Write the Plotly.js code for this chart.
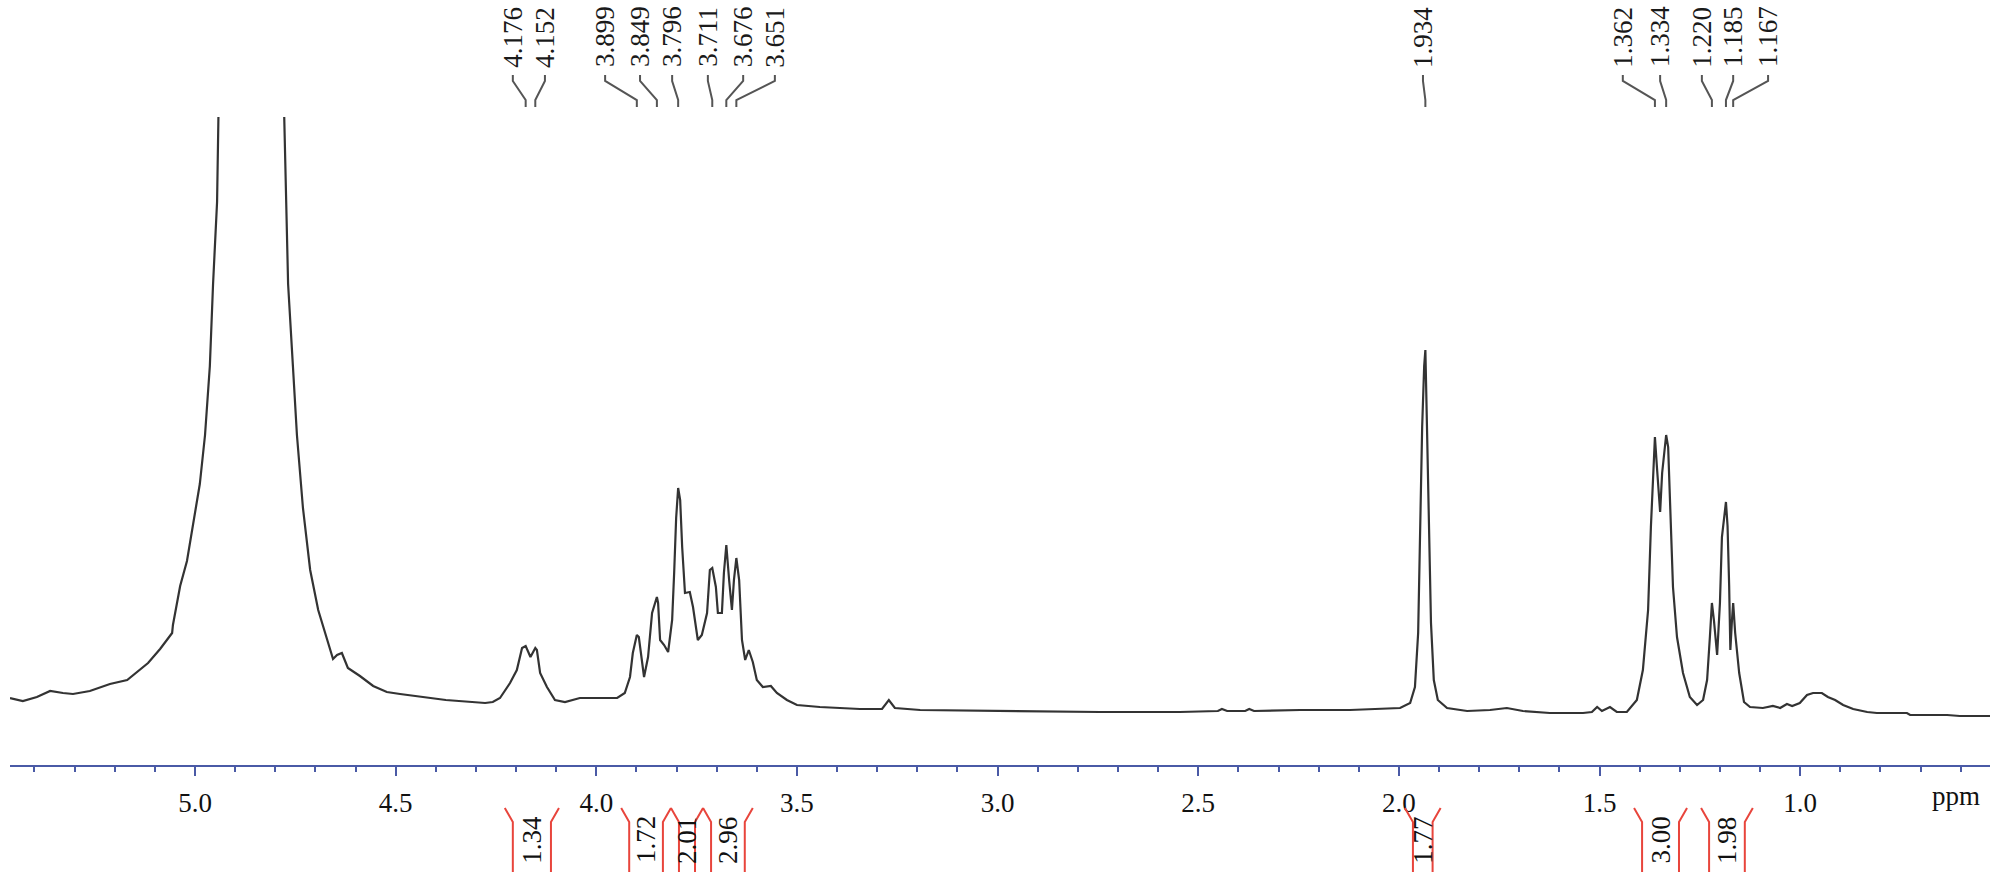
<!DOCTYPE html>
<html>
<head>
<meta charset="utf-8">
<script src="https://cdn.plot.ly/plotly-3.0.1.min.js"></script>
<style>html,body{margin:0;padding:0;background:#fff;}#chart{width:1999px;height:879px;}</style>
</head>
<body>
<div id="chart"></div>
<script>
// ---- spectrum data (chemical shift in ppm, intensity in arbitrary units) ----
const ppm = [5.461,5.429,5.394,5.361,5.329,5.304,5.262,5.212,5.169,5.137,5.117,5.087,5.057,5.055,5.037,5.020,5.005,4.988,4.975,4.963,4.955,4.945,4.940,4.860,4.780,4.773,4.768,4.756,4.746,4.731,4.713,4.693,4.671,4.656,4.646,4.634,4.619,4.589,4.556,4.522,4.489,4.375,4.277,4.258,4.240,4.215,4.198,4.185,4.176,4.164,4.152,4.148,4.140,4.123,4.103,4.078,4.041,3.998,3.948,3.929,3.916,3.909,3.899,3.894,3.889,3.881,3.871,3.861,3.849,3.846,3.841,3.831,3.821,3.811,3.806,3.801,3.796,3.791,3.786,3.779,3.767,3.759,3.747,3.737,3.724,3.717,3.711,3.702,3.697,3.687,3.682,3.676,3.669,3.662,3.657,3.651,3.644,3.637,3.629,3.620,3.610,3.600,3.585,3.565,3.550,3.525,3.500,3.443,3.343,3.288,3.271,3.256,3.193,2.994,2.745,2.546,2.451,2.441,2.428,2.383,2.373,2.361,2.246,2.122,2.040,1.997,1.972,1.960,1.952,1.947,1.942,1.937,1.934,1.930,1.925,1.920,1.913,1.903,1.880,1.830,1.773,1.731,1.691,1.624,1.541,1.519,1.506,1.494,1.474,1.457,1.432,1.407,1.392,1.379,1.372,1.362,1.357,1.349,1.344,1.334,1.329,1.324,1.317,1.307,1.292,1.275,1.257,1.242,1.232,1.225,1.220,1.215,1.207,1.200,1.195,1.185,1.181,1.177,1.174,1.170,1.167,1.162,1.152,1.140,1.125,1.093,1.068,1.050,1.033,1.020,1.001,0.983,0.968,0.946,0.931,0.913,0.893,0.868,0.833,0.809,0.734,0.726,0.634,0.602,0.527];
const intensity = [18,15,19,25,23,22,25,32,36,46,53,67,83,91,130,155,191,232,281,350,432,514,640,1500,640,514,432,350,281,208,146,106,77,57,61,63,48,40,30,24,22,16,13,14,18,33,46,68,70,59,68,66,43,29,16,14,18,18,18,23,39,63,81,79,63,39,59,103,119,113,76,71,64,96,143,198,228,216,169,123,124,109,76,81,103,146,148,129,103,103,143,171,136,106,136,158,136,76,56,66,54,36,29,30,23,16,11,9,7,7,16,8,6,5,4,4,5,7,5,5,7,5,6,6,7,8,13,29,83,193,289,350,366,289,189,93,36,16,8,5,6,8,5,3,3,4,9,5,9,4,4,16,46,106,189,279,249,204,243,281,269,203,129,79,43,19,11,16,36,79,113,96,61,113,179,214,190,130,66,96,113,83,43,14,9,8,10,8,12,10,13,21,23,23,19,16,11,7,4,3,3,1,1,0,0];

// ---- peak picking labels ----
const peakShifts = [4.176,4.152,3.899,3.849,3.796,3.711,3.676,3.651,1.934,1.362,1.334,1.220,1.185,1.167];

// ---- integrals ----
const integralFrom = [4.228,3.938,3.814,3.734,1.985,1.414,1.247];
const integralTo   = [4.093,3.814,3.734,3.610,1.896,1.282,1.118];
const integralValues = ['1.34','1.72','2.01','2.96','1.77','3.00','1.98'];

// ---- axis ----
const xTickLabels = ['5.0','4.5','4.0','3.5','3.0','2.5','2.0','1.5','1.0'];
const xTickValues = [5.0,4.5,4.0,3.5,3.0,2.5,2.0,1.5,1.0];

// layout-only: where the rotated peak labels sit (ppm scale)
const labelPos = [4.208,4.128,3.978,3.891,3.811,3.722,3.634,3.555,1.940,1.442,1.349,1.245,1.167,1.080];

const serif = 'Liberation Serif, Times New Roman, serif';
const axisBlue = '#4a5aa6';
const red = '#e8453c';

const shapes = [];
const annotations = [];

// peak label connectors
peakShifts.forEach((p, i) => {
  const lx = labelPos[i];
  shapes.push({type:'path', xref:'x', yref:'paper',
    path:`M ${lx},1.0648 L ${lx},1.0556 L ${p},1.0262 L ${p},1.0154`,
    line:{color:'#555', width:2}});
  annotations.push({xref:'x', yref:'paper', x:lx, y:1.1235, text:p.toFixed(3),
    textangle:-90, showarrow:false, xanchor:'center', yanchor:'middle',
    font:{family:serif, size:27, color:'#1a1a1a'}});
});

// integral brackets
const off = 0.02;
const yTop = -0.0664, yFlare = -0.0880, yBot = -0.1651, yText = -0.1157;
integralFrom.forEach((a, i) => {
  const b = integralTo[i];
  shapes.push({type:'path', xref:'x', yref:'paper',
    path:`M ${a},${yTop} L ${a-off},${yFlare} L ${a-off},${yBot}`, line:{color:red, width:2}});
  shapes.push({type:'path', xref:'x', yref:'paper',
    path:`M ${b},${yTop} L ${b+off},${yFlare} L ${b+off},${yBot}`, line:{color:red, width:2}});
  annotations.push({xref:'x', yref:'paper', x:(a+b)/2, y:yText, text:integralValues[i],
    textangle:-90, showarrow:false, xanchor:'center', yanchor:'middle',
    font:{family:serif, size:27, color:'#111'}});
});

annotations.push({xref:'paper', yref:'paper', x:0.9828, y:-0.0480, text:'ppm',
  showarrow:false, xanchor:'center', yanchor:'middle', font:{family:serif, size:27, color:'#111'}});

const trace = {x:ppm, y:intensity, type:'scatter', mode:'lines',
  line:{color:'#333333', width:2.2}, hoverinfo:'skip'};

const layout = {
  width:1999, height:879,
  margin:{l:10, r:9, t:117, b:114, pad:0},
  paper_bgcolor:'#fff', plot_bgcolor:'#fff',
  showlegend:false,
  xaxis:{range:[5.461,0.527], showgrid:false, zeroline:false,
    showline:true, linecolor:axisBlue, linewidth:2,
    ticks:'outside', ticklen:9, tickwidth:2, tickcolor:axisBlue,
    ticklabelstandoff:4,
    tickvals:xTickValues, ticktext:xTickLabels,
    minor:{dtick:0.1, tick0:0, ticks:'outside', ticklen:5, tickwidth:2, tickcolor:axisBlue},
    tickfont:{family:serif, size:27, color:'#111'}},
  yaxis:{range:[-49,599], visible:false, fixedrange:true},
  shapes:shapes, annotations:annotations
};

Plotly.newPlot('chart', [trace], layout, {displayModeBar:false, staticPlot:true});
</script>
</body>
</html>
